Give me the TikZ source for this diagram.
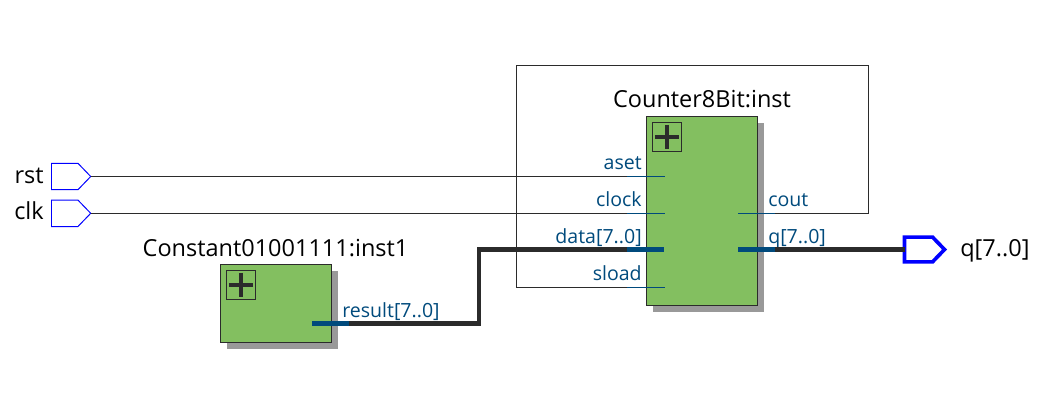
\documentclass[tikz,border=0pt]{standalone}
\usepackage{fontspec}
\setmainfont{Open Sans}
\usetikzlibrary{shapes.symbols}
\definecolor{blockgreen}{HTML}{83BF60}
\definecolor{shadowgray}{HTML}{999999}
\definecolor{wiredark}{HTML}{2B2B2B}
\definecolor{portblue}{HTML}{004A7C}
\definecolor{pinblue}{HTML}{0000FF}
\begin{document}
\begin{tikzpicture}[x=0.025cm,y=-0.025cm]

	\tikzstyle{block}=[draw=wiredark,fill=blockgreen,rectangle,line width=0.7pt,inner sep=0pt,outer sep=0pt,anchor=north west]
	\tikzstyle{blockshadow}=[fill=shadowgray,rectangle,inner sep=0pt,outer sep=0pt,anchor=north west]
	\tikzstyle{plusbox}=[draw=wiredark,rectangle,line width=0.7pt,inner sep=0pt,outer sep=0pt,minimum width=0.735cm,minimum height=0.735cm,anchor=north west,
		path picture={\draw[wiredark,line width=3pt] ([xshift=0.06cm]path picture bounding box.west)--([xshift=-0.06cm]path picture bounding box.east);
		\draw[wiredark,line width=3pt] ([yshift=-0.06cm]path picture bounding box.north)--([yshift=0.06cm]path picture bounding box.south);}]
	\tikzstyle{inpin}=[draw=pinblue,signal,signal to=east,signal pointer angle=92,line width=0.7pt,inner sep=0pt,outer sep=0pt,minimum width=0.98cm,minimum height=0.66cm,anchor=west]
	\tikzstyle{outpin}=[draw=pinblue,signal,signal to=east,signal pointer angle=92,line width=2.6pt,inner sep=0pt,outer sep=0pt,minimum width=1.0cm,minimum height=0.62cm,anchor=west]
	\tikzstyle{thinwire}=[draw=wiredark,line width=0.7pt]
	\tikzstyle{thickwire}=[draw=wiredark,line width=3pt]
	\tikzstyle{thinport}=[draw=portblue,line width=0.7pt]
	\tikzstyle{thickport}=[draw=portblue,line width=3pt]
	\tikzstyle{portlabel}=[text=portblue,font=\fontsize{13.9pt}{16pt}\selectfont,inner sep=0pt]
	\tikzstyle{namelabel}=[text=black,font=\fontsize{16.7pt}{19pt}\selectfont,inner sep=0pt]

	\useasboundingbox (0,0) rectangle (1045,402);

	% blocks
	\node[blockshadow,minimum width=2.78cm,minimum height=4.725cm] (countershadow) at (653,123) {};
	\node[block,minimum width=2.78cm,minimum height=4.725cm] (counter) at (646.5,116.7) {};
	\node[plusbox] (counterplus) at (652.4,122.4) {};

	\node[blockshadow,minimum width=2.785cm,minimum height=1.95cm] (constantshadow) at (227,271) {};
	\node[block,minimum width=2.785cm,minimum height=1.95cm] (constant) at (220.4,264.4) {};
	\node[plusbox] (constantplus) at (226.4,270.4) {};

	\node[namelabel,anchor=base] (countername) at (702,107) {Counter8Bit:inst};
	\node[namelabel,anchor=base] (constantname) at (275.5,256) {Constant01001111:inst1};

	% pins
	\node[inpin] (rstpin) at (51.5,176.5) {};
	\node[inpin] (clkpin) at (51.5,213.3) {};
	\node[outpin] (qpin) at (904.5,249.5) {};
	\node[namelabel,anchor=base east] (rstname) at (44,183) {rst};
	\node[namelabel,anchor=base east] (clkname) at (44,219.5) {clk};
	\node[namelabel,anchor=base west] (qname) at (960,256) {q[7..0]};

	% ports
	\coordinate (asetin) at (665,176.5);
	\coordinate (asetstub) at (627,176.5);
	\coordinate (clockin) at (665,213.3);
	\coordinate (clockstub) at (627,213.3);
	\coordinate (datain) at (664,249.5);
	\coordinate (datastub) at (627,249.5);
	\coordinate (sloadin) at (665,287.5);
	\coordinate (sloadstub) at (627,287.5);
	\coordinate (coutout) at (738,213.3);
	\coordinate (coutstub) at (775,213.3);
	\coordinate (qout) at (738,249.5);
	\coordinate (qstub) at (775,249.5);
	\coordinate (resultout) at (312,323.5);
	\coordinate (resultstub) at (349,323.5);
	\coordinate (busbend) at (479,323.5);
	\coordinate (busup) at (479,249.5);
	\coordinate (frameTR) at (868.5,213.3);
	\coordinate (frameA) at (868.5,65.7);
	\coordinate (frameB) at (516.5,65.7);
	\coordinate (frameC) at (516.5,287.5);

	\node[portlabel,anchor=base east] (asetlabel) at (642,169) {aset};
	\node[portlabel,anchor=base east] (clocklabel) at (642,206) {clock};
	\node[portlabel,anchor=base east] (datalabel) at (642,243) {data[7..0]};
	\node[portlabel,anchor=base east] (sloadlabel) at (642,280) {sload};
	\node[portlabel,anchor=base west] (coutlabel) at (768,206) {cout};
	\node[portlabel,anchor=base west] (qlabel) at (768,243) {q[7..0]};
	\node[portlabel,anchor=base west] (resultlabel) at (342,317) {result[7..0]};

	% wires
	\draw[thinwire] (rstpin.east)--(asetstub);
	\draw[thinwire] (clkpin.east)--(clockstub);
	\draw[thinwire] (coutstub)--(frameTR)--(frameA)--(frameB)--(frameC)--(sloadstub);
	\draw[thickwire,line join=miter] (resultstub)--(busbend)--(busup)--(datastub);
	\draw[thickwire] (qstub)--(qpin.west);

	\draw[thinport] (asetstub)--(asetin);
	\draw[thinport] (clockstub)--(clockin);
	\draw[thinport] (sloadstub)--(sloadin);
	\draw[thinport] (coutout)--(coutstub);
	\draw[thickport] (datastub)--(datain);
	\draw[thickport] (qout)--(qstub);
	\draw[thickport] (resultout)--(resultstub);

\end{tikzpicture}
\end{document}
